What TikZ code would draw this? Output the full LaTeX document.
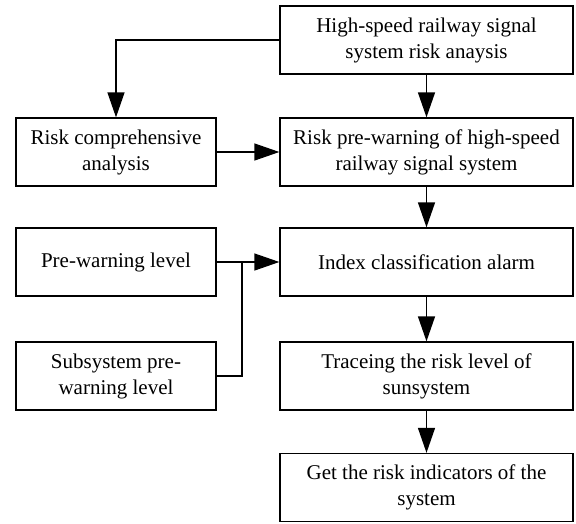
\documentclass[tikz,border=0pt]{standalone}
\usepackage{fontspec}
\setmainfont{Liberation Serif}
\usetikzlibrary{arrows.meta}
\begin{document}
\begin{tikzpicture}[x=1pt,y=-1pt,
  box/.style={draw,line width=1.3pt,rectangle,inner sep=0pt,align=center,
    minimum height=68pt,font=\fontsize{21}{26}\selectfont},
  wbox/.style={box,minimum width=293pt},
  nbox/.style={box,minimum width=200pt},
  conn/.style={line width=1.3pt},
  arr/.style={conn,-{Triangle[length=25pt,width=17pt]}}]
\useasboundingbox (0,0) rectangle (576,523);
\node[wbox] (top) at (426.5,40) {High-speed railway signal\\system risk anaysis};
\node[wbox] (rp) at (426.5,152) {Risk pre-warning of high-speed\\railway signal system};
\node[nbox] (lc) at (116,152) {Risk comprehensive\\analysis};
\node[wbox] (idx) at (426.5,262) {Index classification alarm};
\node[nbox] (pw) at (116,262) {Pre-warning level};
\node[nbox] (sub) at (116,376) {Subsystem pre-\\warning level};
\node[wbox] (tr) at (426.5,376) {Traceing the risk level of\\sunsystem};
\node[wbox] (get) at (426.5,487.5) {Get the risk indicators of the\\system};
\coordinate (j) at (242,262);
\draw[arr] (top.west) -| (lc.north);
\draw[arr] (top.south) -- (rp.north);
\draw[arr] (lc.east) -- (rp.west);
\draw[arr] (rp.south) -- (idx.north);
\draw[arr] (pw.east) -- (idx.west);
\draw[conn] (sub.east) -| (j);
\draw[arr] (idx.south) -- (tr.north);
\draw[arr] (tr.south) -- (get.north);
\end{tikzpicture}
\end{document}
